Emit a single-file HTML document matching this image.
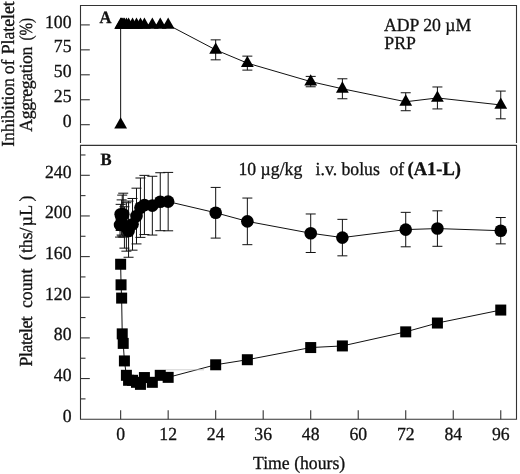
<!DOCTYPE html>
<html><head><meta charset="utf-8"><title>Figure</title>
<style>html,body{margin:0;padding:0;background:#fff;}svg{display:block;will-change:transform;}.tx,.tx text,.tx tspan{font-family:"Liberation Serif",serif;text-rendering:geometricPrecision;}</style></head>
<body>
<svg width="520" height="474" viewBox="0 0 520 474">
<rect width="520" height="474" fill="#fff"/>
<g stroke="#333" stroke-width="1.1" fill="none" stroke-linecap="butt">
<path d="M80.5 143.1V5.5H516.5V143.1"/>
<path d="M80.5 145.4H516.5V419.2H80.5Z"/>
<path d="M80.5 124.70h9.3"/>
<path d="M80.5 99.75h9.3"/>
<path d="M80.5 74.80h9.3"/>
<path d="M80.5 49.85h9.3"/>
<path d="M80.5 24.90h9.3"/>
<path d="M80.5 398.88h5"/>
<path d="M80.5 378.55h9.3"/>
<path d="M80.5 358.22h5"/>
<path d="M80.5 337.90h9.3"/>
<path d="M80.5 317.57h5"/>
<path d="M80.5 297.25h9.3"/>
<path d="M80.5 276.92h5"/>
<path d="M80.5 256.60h9.3"/>
<path d="M80.5 236.27h5"/>
<path d="M80.5 215.95h9.3"/>
<path d="M80.5 195.62h5"/>
<path d="M80.5 175.30h9.3"/>
<path d="M80.5 154.97h5"/>
<path d="M120.65 419.2v-9"/>
<path d="M168.16 419.2v-9"/>
<path d="M215.68 419.2v-9"/>
<path d="M263.19 419.2v-9"/>
<path d="M310.71 419.2v-9"/>
<path d="M358.22 419.2v-9"/>
<path d="M405.73 419.2v-9"/>
<path d="M453.25 419.2v-9"/>
<path d="M500.76 419.2v-9"/>
</g>
<g stroke="#111" stroke-width="1" fill="none">
<polyline points="120.65,124.70 120.65,24.90 121.05,24.90 121.64,24.90 122.23,24.90 123.22,24.90 124.41,24.90 126.39,24.90 128.57,24.90 132.53,24.90 136.49,24.90 140.45,24.90 144.41,24.90 152.33,24.90 160.25,24.90 168.16,24.90 215.68,49.85 247.35,63.12 310.71,81.59 342.38,88.77 405.73,101.75 437.41,97.95 500.76,104.94"/>
<path d="M215.68 39.87V59.83M210.68 39.87h10M210.68 59.83h10"/>
<path d="M247.35 56.14V70.11M242.35 56.14h10M242.35 70.11h10"/>
<path d="M310.71 76.40V86.78M305.71 76.40h10M305.71 86.78h10"/>
<path d="M342.38 78.79V98.75M337.38 78.79h10M337.38 98.75h10"/>
<path d="M405.73 92.76V110.73M400.73 92.76h10M400.73 110.73h10"/>
<path d="M437.41 86.98V108.93M432.41 86.98h10M432.41 108.93h10"/>
<path d="M500.76 91.07V118.81M495.76 91.07h10M495.76 118.81h10"/>
</g>
<g fill="#000">
<path d="M120.65 117.30L127.05 128.60H114.25Z"/>
<path d="M120.65 17.50L127.05 28.80H114.25Z"/>
<path d="M121.05 17.50L127.45 28.80H114.65Z"/>
<path d="M121.64 17.50L128.04 28.80H115.24Z"/>
<path d="M122.23 17.50L128.63 28.80H115.83Z"/>
<path d="M123.22 17.50L129.62 28.80H116.82Z"/>
<path d="M124.41 17.50L130.81 28.80H118.01Z"/>
<path d="M126.39 17.50L132.79 28.80H119.99Z"/>
<path d="M128.57 17.50L134.97 28.80H122.17Z"/>
<path d="M132.53 17.50L138.93 28.80H126.13Z"/>
<path d="M136.49 17.50L142.89 28.80H130.09Z"/>
<path d="M140.45 17.50L146.85 28.80H134.05Z"/>
<path d="M144.41 17.50L150.81 28.80H138.01Z"/>
<path d="M152.33 17.50L158.73 28.80H145.93Z"/>
<path d="M160.25 17.50L166.65 28.80H153.84Z"/>
<path d="M168.16 17.50L174.56 28.80H161.76Z"/>
<path d="M215.68 42.45L222.08 53.75H209.28Z"/>
<path d="M247.35 55.72L253.75 67.02H240.95Z"/>
<path d="M310.71 74.19L317.11 85.49H304.31Z"/>
<path d="M342.38 81.37L348.78 92.67H335.98Z"/>
<path d="M405.73 94.35L412.13 105.65H399.33Z"/>
<path d="M437.41 90.55L443.81 101.85H431.01Z"/>
<path d="M500.76 97.54L507.16 108.84H494.36Z"/>
</g>
<g stroke="#111" stroke-width="1" fill="none">
<polyline points="120.06,224.92 120.65,214.28 121.64,217.83 122.23,214.79 123.22,214.28 124.41,225.43 126.39,226.95 128.57,231.00 132.53,224.31 136.49,216.05 140.45,207.69 144.41,204.96 152.33,205.66 160.25,201.71 168.16,201.61 215.68,212.76 247.35,221.37 310.71,233.23 342.38,237.59 405.73,229.58 437.41,228.57 500.76,230.70"/>
<path d="M120.06 212.76V237.08M115.06 212.76h10M115.06 237.08h10"/>
<path d="M120.65 204.35V230.50M115.65 204.35h10M115.65 230.50h10"/>
<path d="M121.64 199.89V235.06M116.64 199.89h10M116.64 235.06h10"/>
<path d="M122.23 195.12V236.07M117.23 195.12h10M117.23 236.07h10"/>
<path d="M123.22 193.20V237.08M118.22 193.20h10M118.22 237.08h10"/>
<path d="M124.41 206.78V248.13M119.41 206.78h10M119.41 248.13h10"/>
<path d="M126.39 202.73V251.17M121.39 202.73h10M121.39 251.17h10"/>
<path d="M128.57 201.10V257.25M123.57 201.10h10M123.57 257.25h10"/>
<path d="M132.53 198.47V250.16M127.53 198.47h10M127.53 250.16h10"/>
<path d="M136.49 188.18V243.92M131.49 188.18h10M131.49 243.92h10"/>
<path d="M140.45 178.00V237.39M135.45 178.00h10M135.45 237.39h10"/>
<path d="M144.41 175.36V234.55M139.41 175.36h10M139.41 234.55h10"/>
<path d="M152.33 176.27V235.06M147.33 176.27h10M147.33 235.06h10"/>
<path d="M160.25 172.73V230.70M155.25 172.73h10M155.25 230.70h10"/>
<path d="M168.16 172.42V230.80M163.16 172.42h10M163.16 230.80h10"/>
<path d="M215.68 187.42V238.10M210.68 187.42h10M210.68 238.10h10"/>
<path d="M247.35 198.06V244.68M242.35 198.06h10M242.35 244.68h10"/>
<path d="M310.71 213.98V252.49M305.71 213.98h10M305.71 252.49h10"/>
<path d="M342.38 219.35V255.83M337.38 219.35h10M337.38 255.83h10"/>
<path d="M405.73 212.35V246.81M400.73 212.35h10M400.73 246.81h10"/>
<path d="M437.41 210.83V246.31M432.41 210.83h10M432.41 246.31h10"/>
<path d="M500.76 217.52V243.87M495.76 217.52h10M495.76 243.87h10"/>
</g>
<g fill="#000">
<circle cx="120.06" cy="224.92" r="6.3"/>
<circle cx="120.65" cy="214.28" r="6.3"/>
<circle cx="121.64" cy="217.83" r="6.3"/>
<circle cx="122.23" cy="214.79" r="6.3"/>
<circle cx="123.22" cy="214.28" r="6.3"/>
<circle cx="124.41" cy="225.43" r="6.3"/>
<circle cx="126.39" cy="226.95" r="6.3"/>
<circle cx="128.57" cy="231.00" r="6.3"/>
<circle cx="132.53" cy="224.31" r="6.3"/>
<circle cx="136.49" cy="216.05" r="6.3"/>
<circle cx="140.45" cy="207.69" r="6.3"/>
<circle cx="144.41" cy="204.96" r="6.3"/>
<circle cx="152.33" cy="205.66" r="6.3"/>
<circle cx="160.25" cy="201.71" r="6.3"/>
<circle cx="168.16" cy="201.61" r="6.3"/>
<circle cx="215.68" cy="212.76" r="6.3"/>
<circle cx="247.35" cy="221.37" r="6.3"/>
<circle cx="310.71" cy="233.23" r="6.3"/>
<circle cx="342.38" cy="237.59" r="6.3"/>
<circle cx="405.73" cy="229.58" r="6.3"/>
<circle cx="437.41" cy="228.57" r="6.3"/>
<circle cx="500.76" cy="230.70" r="6.3"/>
</g>
<g stroke="#111" stroke-width="1" fill="none">
<polyline points="120.65,264.25 121.05,284.82 121.64,298.10 122.23,333.87 123.22,343.40 124.41,360.93 126.39,375.32 128.57,380.29 132.53,380.29 136.49,382.32 140.45,384.35 144.41,377.55 152.33,382.32 160.25,375.32 168.16,377.35 215.68,364.78 247.35,359.72 310.71,347.56 342.38,345.93 405.73,331.85 437.41,323.03 500.76,310.06"/>
</g>
<path d="M165.5 369.8H204" stroke="#c4c4c4" stroke-width="0.8" fill="none"/>
<g fill="#000">
<rect x="115.15" y="258.75" width="11" height="11"/>
<rect x="115.55" y="279.32" width="11" height="11"/>
<rect x="116.14" y="292.60" width="11" height="11"/>
<rect x="116.73" y="328.37" width="11" height="11"/>
<rect x="117.72" y="337.90" width="11" height="11"/>
<rect x="118.91" y="355.43" width="11" height="11"/>
<rect x="120.89" y="369.82" width="11" height="11"/>
<rect x="123.07" y="374.79" width="11" height="11"/>
<rect x="127.03" y="374.79" width="11" height="11"/>
<rect x="130.99" y="376.82" width="11" height="11"/>
<rect x="134.95" y="378.85" width="11" height="11"/>
<rect x="138.91" y="372.05" width="11" height="11"/>
<rect x="146.83" y="376.82" width="11" height="11"/>
<rect x="154.75" y="369.82" width="11" height="11"/>
<rect x="162.66" y="371.85" width="11" height="11"/>
<rect x="210.18" y="359.28" width="11" height="11"/>
<rect x="241.85" y="354.22" width="11" height="11"/>
<rect x="305.21" y="342.06" width="11" height="11"/>
<rect x="336.88" y="340.43" width="11" height="11"/>
<rect x="400.23" y="326.35" width="11" height="11"/>
<rect x="431.91" y="317.53" width="11" height="11"/>
<rect x="495.26" y="304.56" width="11" height="11"/>
</g>
<g class="tx" font-size="17.7" fill="#111" stroke="#111" stroke-width="0.3">
<text transform="translate(71.50,127.30) scale(1,1.04)" text-anchor="end">0</text>
<text transform="translate(71.50,102.35) scale(1,1.04)" text-anchor="end">25</text>
<text transform="translate(71.50,77.40) scale(1,1.04)" text-anchor="end">50</text>
<text transform="translate(71.50,52.45) scale(1,1.04)" text-anchor="end">75</text>
<text transform="translate(71.50,27.50) scale(1,1.04)" text-anchor="end">100</text>
<text transform="translate(71.50,421.70) scale(1,1.04)" text-anchor="end">0</text>
<text transform="translate(71.50,381.05) scale(1,1.04)" text-anchor="end">40</text>
<text transform="translate(71.50,340.40) scale(1,1.04)" text-anchor="end">80</text>
<text transform="translate(71.50,299.75) scale(1,1.04)" text-anchor="end">120</text>
<text transform="translate(71.50,259.10) scale(1,1.04)" text-anchor="end">160</text>
<text transform="translate(71.50,218.45) scale(1,1.04)" text-anchor="end">200</text>
<text transform="translate(71.50,177.80) scale(1,1.04)" text-anchor="end">240</text>
<text transform="translate(120.65,440.00) scale(1,1.04)" text-anchor="middle">0</text>
<text transform="translate(168.16,440.00) scale(1,1.04)" text-anchor="middle">12</text>
<text transform="translate(215.68,440.00) scale(1,1.04)" text-anchor="middle">24</text>
<text transform="translate(263.19,440.00) scale(1,1.04)" text-anchor="middle">36</text>
<text transform="translate(310.71,440.00) scale(1,1.04)" text-anchor="middle">48</text>
<text transform="translate(358.22,440.00) scale(1,1.04)" text-anchor="middle">60</text>
<text transform="translate(405.73,440.00) scale(1,1.04)" text-anchor="middle">72</text>
<text transform="translate(453.25,440.00) scale(1,1.04)" text-anchor="middle">84</text>
<text transform="translate(500.76,440.00) scale(1,1.04)" text-anchor="middle">96</text>
<text transform="translate(253.00,468.80) scale(1,1.04)">Time (hours)</text>
<text transform="translate(384.00,30.90) scale(1,1.04)">ADP 20 µM</text>
<text transform="translate(384.30,48.90) scale(1,1.04)">PRP</text>
<text transform="translate(238.50,174.70) scale(1,1.04)">10 µg/kg</text>
<text transform="translate(315.60,174.70) scale(1,1.04)">i.v. bolus</text>
<text transform="translate(389.50,174.70) scale(1,1.04)">of</text>
<text transform="translate(407.60,174.90) scale(1,1.04)" font-weight="bold" font-size="18.5">(A1-L)</text>
<text transform="translate(99.60,23.00) scale(1,1.04)" font-weight="bold" font-size="16.6">A</text>
<text transform="translate(100.50,164.60) scale(1,1.04)" font-weight="bold" font-size="16.6">B</text>
<text transform="translate(14.20,146.85) rotate(-90) scale(1,1.04)" textLength="68.8" lengthAdjust="spacing">Inhibition</text>
<text transform="translate(14.20,74.30) rotate(-90) scale(1,1.04)">of</text>
<text transform="translate(14.20,54.30) rotate(-90) scale(1,1.04)">Platelet</text>
<text transform="translate(32.20,131.70) rotate(-90) scale(1,1.04)" textLength="85.1" lengthAdjust="spacing">Aggregation</text>
<text transform="translate(32.20,40.50) rotate(-90) scale(1,1.04)" textLength="22.5" lengthAdjust="spacingAndGlyphs">(%)</text>
<text transform="translate(32.30,366.50) rotate(-90) scale(1,1.04)" textLength="50.3" lengthAdjust="spacing">Platelet</text>
<text transform="translate(32.30,308.00) rotate(-90) scale(1,1.04)">count</text>
<text transform="translate(32.30,260.20) rotate(-90) scale(1,1.04)" dx="0 1.2 0 0 0 1.4 0.3 3.2">(ths/µL)</text>
</g>
</svg>
</body></html>
